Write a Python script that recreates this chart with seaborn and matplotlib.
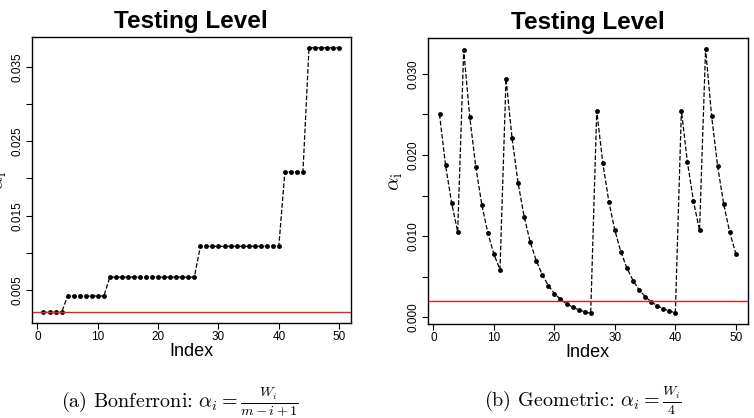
import numpy as np
import pandas as pd
import seaborn as sns
from matplotlib import pyplot as plt

# Bonferroni testing levels (step levels over index ranges)
bonf_levels = [0.00200, 0.00420, 0.00674, 0.01088, 0.02088, 0.03754]
bonf_counts = [4, 7, 15, 14, 4, 6]

# Geometric testing levels, one per index 1..50
geom_alpha = [
    0.02500, 0.01872, 0.01410, 0.01054, 0.03290, 0.02468, 0.01851, 0.01385, 0.01038, 0.00776,
    0.00588, 0.02938, 0.02203, 0.01651, 0.01238, 0.00928, 0.00699, 0.00523, 0.00392, 0.00294,
    0.00221, 0.00168, 0.00127, 0.00094, 0.00069, 0.00049, 0.02542, 0.01904, 0.01426, 0.01071,
    0.00805, 0.00605, 0.00454, 0.00339, 0.00257, 0.00192, 0.00143, 0.00106, 0.00078, 0.00057,
    0.02546, 0.01908, 0.01430, 0.01071, 0.03306, 0.02477, 0.01859, 0.01394, 0.01046, 0.00785,
]
alpha_line = 0.002

bonf_alpha = [lv for lv, n in zip(bonf_levels, bonf_counts) for _ in range(n)]
index = np.arange(1, 51)
df_a = pd.DataFrame({"Index": index, "alpha": bonf_alpha})
df_b = pd.DataFrame({"Index": index, "alpha": geom_alpha})

sns.set_style("ticks")
plt.rcParams["font.family"] = ["Liberation Sans", "DejaVu Sans"]
plt.rcParams["mathtext.fontset"] = "cm"
for k in ["text.color", "axes.labelcolor", "xtick.color", "ytick.color"]:
    plt.rcParams[k] = "black"

fig = plt.figure(figsize=(7.54, 4.18), dpi=100)
ax_a = fig.add_axes([0.042, 0.2273, 0.4235, 0.6835])
ax_b = fig.add_axes([0.5672, 0.2249, 0.4244, 0.6835])


def draw(ax, df, yticks, ylabels):
    sns.lineplot(data=df, x="Index", y="alpha", ax=ax, color="black",
                 linestyle="--", linewidth=0.9, marker="o", markersize=3.5,
                 markeredgewidth=0, dashes=(3, 2))
    ax.axhline(alpha_line, color="#e3221e", linewidth=1.0)
    lo, hi = df.alpha.min(), max(df.alpha.max(), alpha_line)
    pad = (hi - lo) * 0.04
    ax.set_ylim(lo - pad, hi + pad)
    ax.set_xlim(1 - 49 * 0.04, 50 + 49 * 0.04)
    ax.set_xticks([0, 10, 20, 30, 40, 50])
    ax.set_yticks(yticks)
    ax.set_yticklabels(ylabels, rotation=90, va="center")
    ax.tick_params(labelsize=8.5, length=4, width=0.8, color="black", pad=2)
    for s in ax.spines.values():
        s.set_color("black")
        s.set_linewidth(1.0)
    ax.set_title("Testing Level", fontsize=17.5, fontweight="bold", pad=7)
    ax.set_xlabel("Index", fontsize=13, labelpad=0)
    ax.set_ylabel(r"$\alpha_{\mathrm{i}}$", fontsize=15, labelpad=2)


ya = [0.005, 0.010, 0.015, 0.020, 0.025, 0.030, 0.035]
draw(ax_a, df_a, ya, ["0.005", "", "0.015", "", "0.025", "", "0.035"])
yb = [0.000, 0.005, 0.010, 0.015, 0.020, 0.025, 0.030]
draw(ax_b, df_b, yb, ["0.000", "", "0.010", "", "0.020", "", "0.030"])

fig.text(0.238, 1 - 407 / 418, r"(a) Bonferroni: $\alpha_i = \frac{W_i}{m-i+1}$",
         ha="center", va="baseline", fontsize=14.5, family="cmr10")
fig.text(0.773, 1 - 407 / 418, r"(b) Geometric: $\alpha_i = \frac{W_i}{4}$",
         ha="center", va="baseline", fontsize=14.5, family="cmr10")

fig.savefig("out.png", dpi=100)
